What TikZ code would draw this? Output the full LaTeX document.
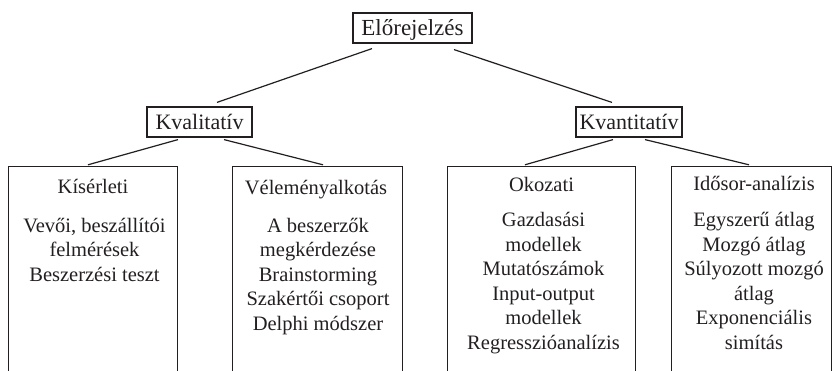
\documentclass[tikz,border=0pt]{standalone}
\usepackage{fontspec}
\setmainfont{Liberation Serif}
\definecolor{ink}{HTML}{231F20}
\begin{document}
\begin{tikzpicture}[x=1pt,y=-1pt,
  label/.style={draw=ink, line width=1.2pt, inner sep=0pt, text=ink,
    text height=15pt, text depth=0pt, font=\fontsize{22}{26}\selectfont},
  colframe/.style={inner sep=0pt, minimum height=204pt},
  frame/.style={draw=ink, line width=1.2pt},
  link/.style={draw=ink, line width=1.2pt},
  coltitle/.style={anchor=base, inner sep=0pt, text=ink,
    font=\fontsize{20.5}{24.5}\selectfont},
  % multi-line blocks are placed by the baseline of their last line
  colbody/.style={coltitle, align=center}]
\useasboundingbox (0,0) rectangle (832,371);

% hierarchy labels
\node[label, minimum width=119pt, minimum height=30pt, font=\fontsize{23}{26}\selectfont] (root) at (412.5,28) {Előrejelzés};
\node[label, minimum width=105pt, minimum height=30pt] (qual) at (199.5,122) {Kvalitatív};
\node[label, minimum width=106pt, minimum height=30pt] (quant) at (629,122) {Kvantitatív};

% open-bottomed columns
\node[colframe, minimum width=168pt] (c1) at (93,269) {};
\node[colframe, minimum width=169pt] (c2) at (317.5,269) {};
\node[colframe, minimum width=187pt] (c3) at (541.5,269) {};
\node[colframe, minimum width=159pt] (c4) at (751.5,269) {};
\foreach \c in {c1,c2,c3,c4}
  \draw[frame] (\c.south west) |- (\c.north) -| (\c.south east);

% connectors
\draw[link] ([shift={(-40.5,5)}]root.south) -- ([shift={(17.5,-4)}]qual.north);
\draw[link] ([shift={(41.5,6)}]root.south) -- ([shift={(-17,-4)}]quant.north);
\draw[link] ([shift={(-21.5,2)}]qual.south) -- ([shift={(-5,-2)}]c1.north);
\draw[link] ([shift={(24.5,2)}]qual.south) -- ([shift={(5.5,-2)}]c2.north);
\draw[link] ([shift={(-16,2)}]quant.south) -- ([shift={(-16.5,-2)}]c3.north);
\draw[link] ([shift={(16,2)}]quant.south) -- ([shift={(-2.5,-2)}]c4.north);

% column contents
\node[coltitle] (t1) at (93,194) {Kísérleti};
\node[colbody] (d1) at (94.5,281) {Vevői, beszállítói\\felmérések\\Beszerzési teszt};
\node[coltitle] (t2) at (316,195) {Véleményalkotás};
\node[colbody] (d2) at (318,330) {A beszerzők\\megkérdezése\\Brainstorming\\Szakértői csoport\\Delphi módszer};
\node[coltitle] (t3) at (541.5,191.5) {Okozati};
\node[colbody] (d3) at (543.5,349) {Gazdasási\\modellek\\Mutatószámok\\Input-output\\modellek\\Regresszióanalízis};
\node[coltitle] (t4) at (754,190.5) {Idősor-analízis};
\node[colbody] (d4) at (754,349) {Egyszerű átlag\\Mozgó átlag\\Súlyozott mozgó\\átlag\\Exponenciális\\simítás};
\end{tikzpicture}
\end{document}
